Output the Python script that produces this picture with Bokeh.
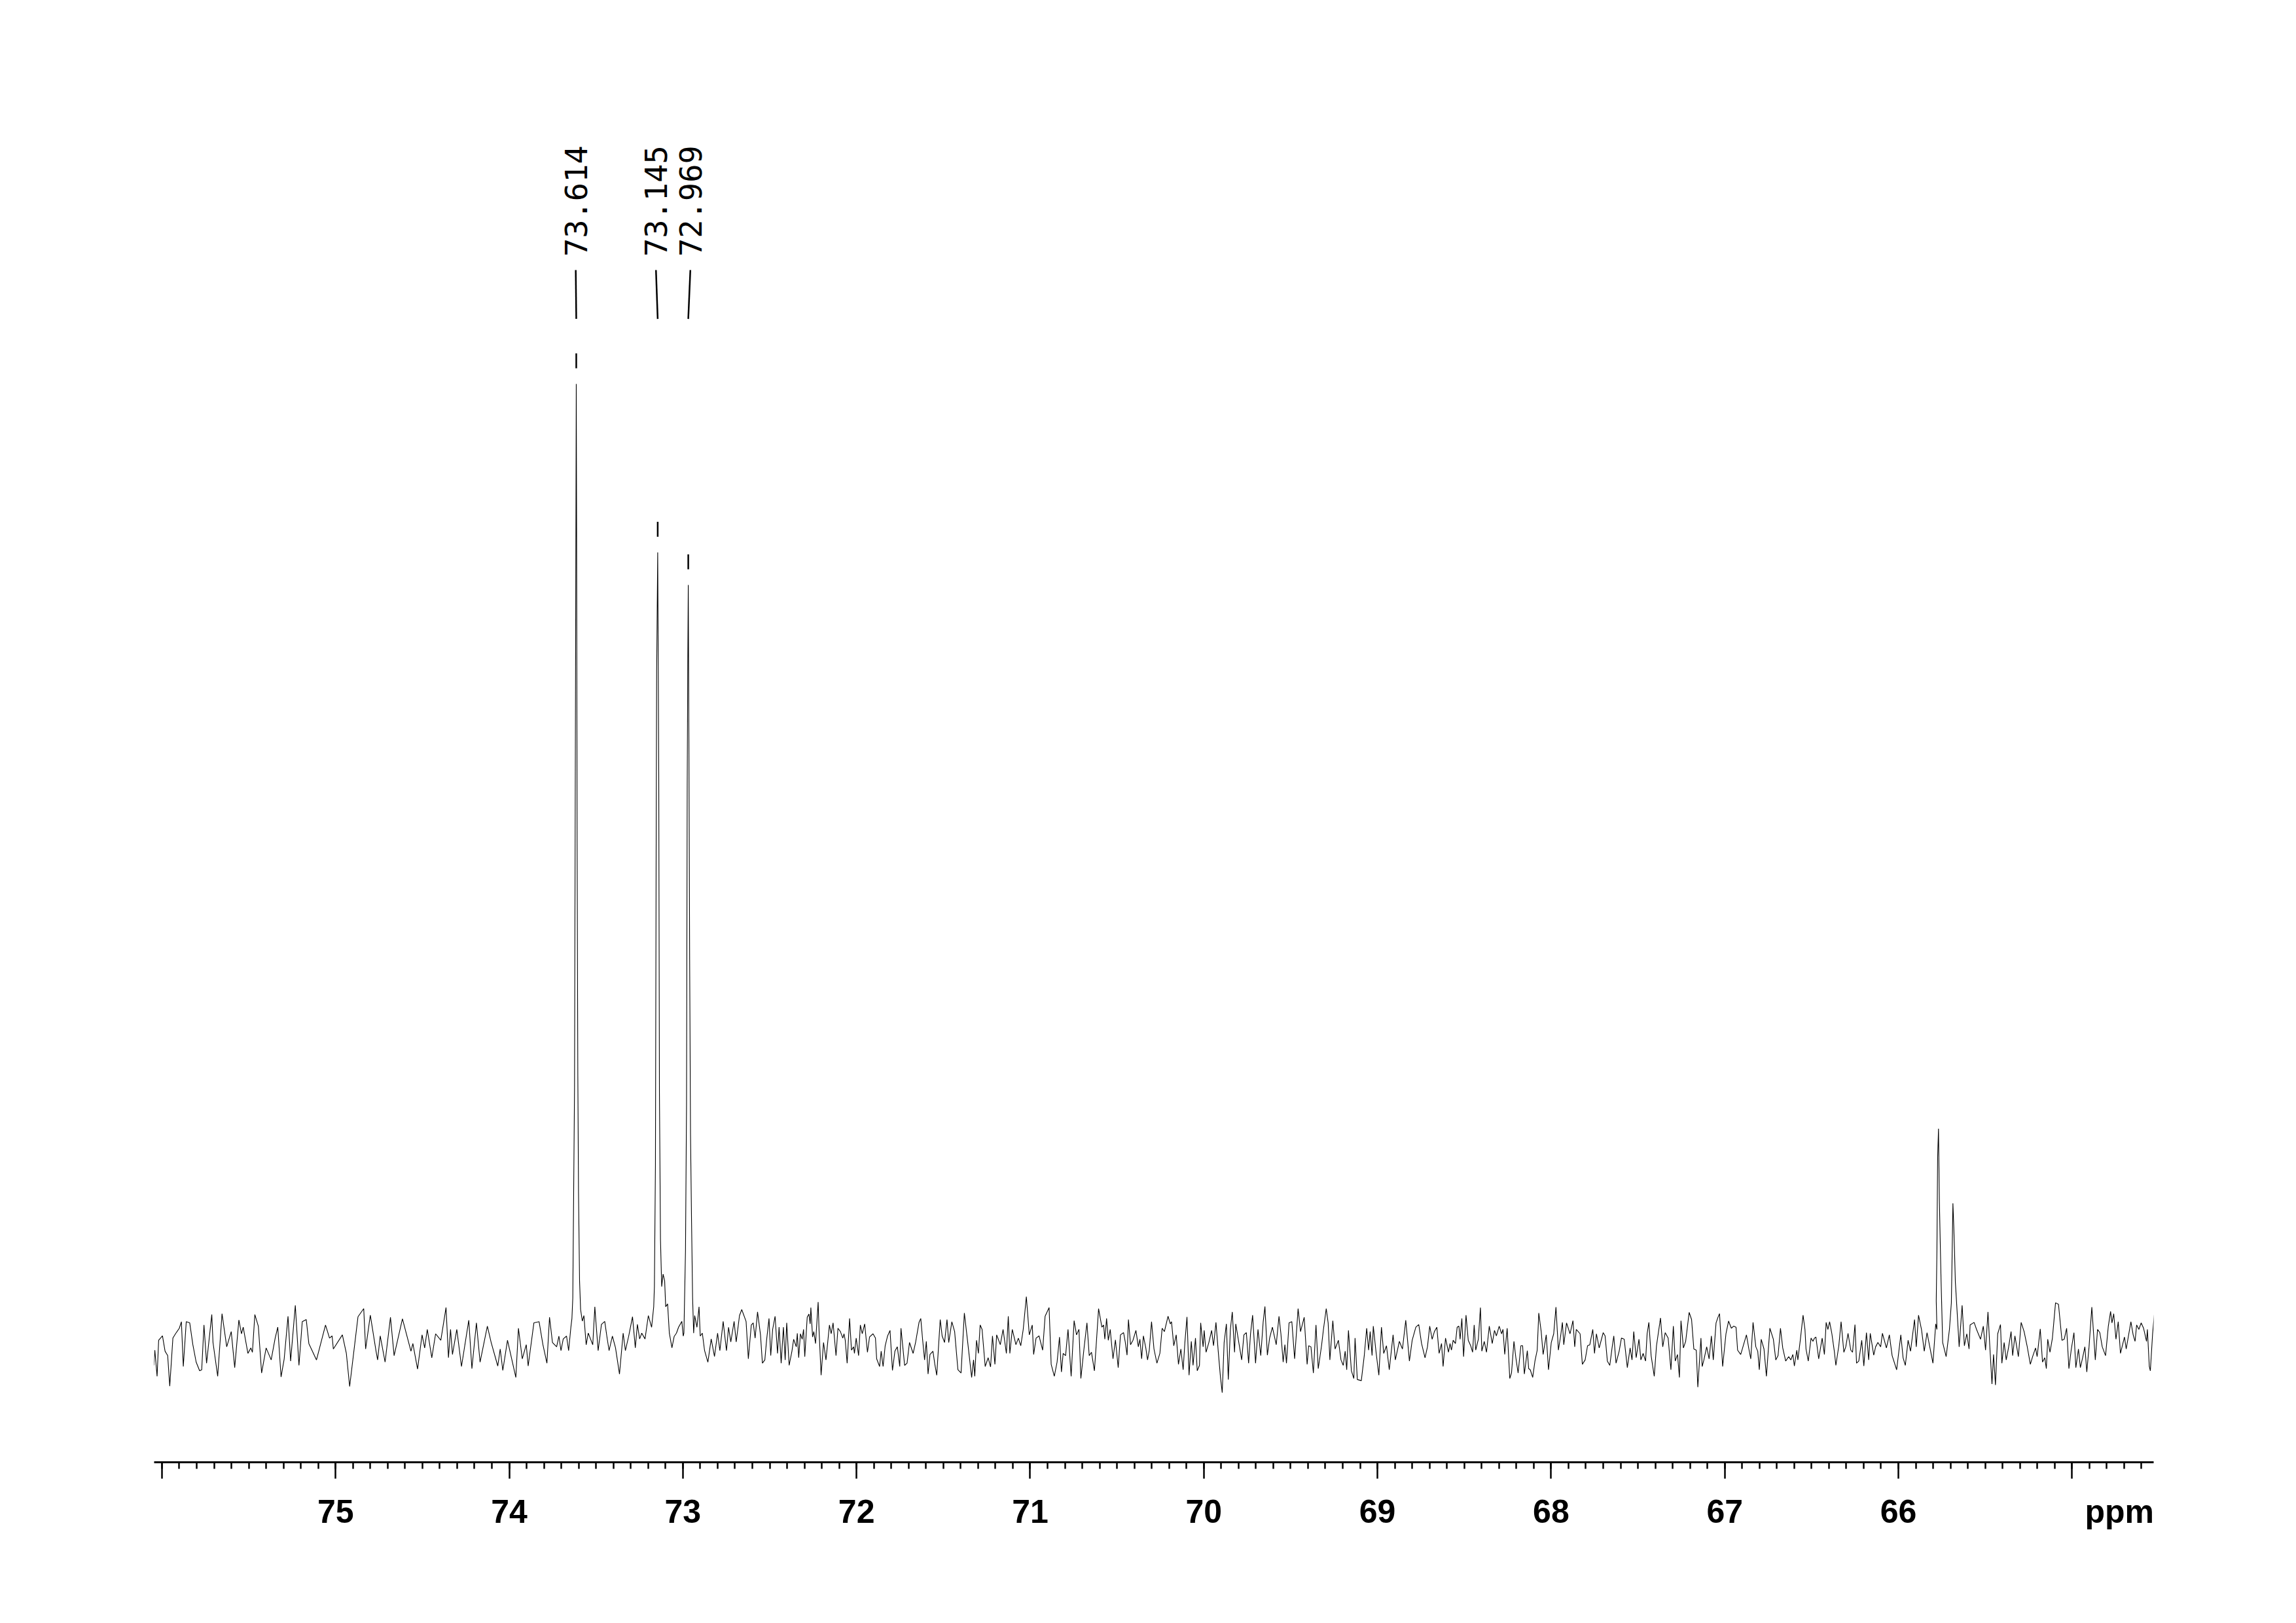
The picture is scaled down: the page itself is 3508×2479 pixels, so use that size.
import numpy as np
from bokeh.plotting import figure
from bokeh.models import Range1d, FixedTicker, LinearAxis
from bokeh.embed import file_html
from bokeh.resources import INLINE
from bokeh.core.properties import value

# ---------------- data ----------------
SPEC_PPM = [
    76.046, 76.041, 76.028, 76.019, 75.997, 75.982, 75.967, 75.955, 75.937, 75.922,
    75.900, 75.888, 75.877, 75.860, 75.840, 75.822, 75.803, 75.783, 75.771, 75.758,
    75.743, 75.713, 75.706, 75.679, 75.654, 75.627, 75.601, 75.581, 75.557, 75.542,
    75.532, 75.505, 75.488, 75.479, 75.465, 75.445, 75.426, 75.400, 75.371, 75.348,
    75.333, 75.314, 75.296, 75.274, 75.259, 75.232, 75.211, 75.192, 75.169, 75.154,
    75.110, 75.058, 75.035, 75.020, 75.013, 74.961, 74.938, 74.919, 74.871, 74.838,
    74.827, 74.800, 74.767, 74.758, 74.743, 74.715, 74.684, 74.663, 74.615, 74.566,
    74.555, 74.528, 74.502, 74.487, 74.472, 74.446, 74.424, 74.394, 74.364, 74.350,
    74.338, 74.327, 74.302, 74.275, 74.233, 74.215, 74.189, 74.168, 74.126, 74.104,
    74.066, 74.052, 74.037, 74.010, 73.962, 73.947, 73.925, 73.902, 73.891, 73.858,
    73.828, 73.806, 73.783, 73.768, 73.751, 73.727,
    73.714, 73.702, 73.689, 73.670, 73.658, 73.645, 73.639, 73.634, 73.629, 73.624,
    73.620, 73.616, 73.614, 73.612, 73.609, 73.605, 73.601, 73.595, 73.589, 73.579,
    73.570, 73.557, 73.545, 73.532, 73.519, 73.507, 73.501, 73.488, 73.469, 73.450,
    73.438, 73.425, 73.406, 73.388, 73.365, 73.344, 73.331, 73.312, 73.290, 73.274,
    73.262, 73.249, 73.237, 73.218, 73.199, 73.180, 73.168, 73.164, 73.158, 73.154,
    73.151, 73.145, 73.139, 73.135, 73.129, 73.122, 73.114, 73.105, 73.099, 73.088,
    73.078, 73.063, 73.050, 73.037, 73.025, 73.006, 72.998, 72.994, 72.985, 72.979,
    72.975, 72.972, 72.969, 72.965, 72.961, 72.956, 72.950, 72.944, 72.938, 72.932,
    72.919, 72.907, 72.900, 72.888, 72.875, 72.856, 72.837, 72.818, 72.800, 72.787,
    72.768, 72.749, 72.737, 72.724, 72.705, 72.693, 72.674, 72.661, 72.636,
    72.623, 72.606, 72.595, 72.584, 72.570, 72.553, 72.542, 72.528, 72.518, 72.504,
    72.494, 72.483, 72.469, 72.455, 72.446, 72.434, 72.421, 72.411, 72.402, 72.388,
    72.372, 72.362, 72.347, 72.341, 72.333, 72.323, 72.313, 72.305, 72.298, 72.284,
    72.274, 72.267, 72.263, 72.253, 72.246, 72.236, 72.221, 72.216, 72.204, 72.190,
    72.176, 72.156, 72.146, 72.135, 72.118, 72.107, 72.093, 72.079, 72.072, 72.065,
    72.054, 72.040, 72.029, 72.017, 72.012, 72.002, 71.988, 71.978, 71.967, 71.953,
    71.937, 71.925, 71.905, 71.891, 71.884, 71.867, 71.858, 71.847, 71.835, 71.821,
    71.807, 71.793, 71.779, 71.765, 71.751, 71.744, 71.723, 71.709, 71.695, 71.674,
    71.660, 71.640, 71.630, 71.619, 71.608, 71.598, 71.588, 71.577, 71.560, 71.549,
    71.538, 71.518, 71.507, 71.493, 71.479, 71.469, 71.451, 71.435, 71.416, 71.398,
    71.379, 71.361, 71.337, 71.326, 71.319, 71.309, 71.298, 71.288, 71.277, 71.259,
    71.242, 71.228, 71.217, 71.203, 71.193, 71.172, 71.156, 71.137, 71.126, 71.117,
    71.103, 71.082, 71.068, 71.054, 71.040, 71.022, 71.005, 70.988, 70.980, 70.966,
    70.949, 70.928, 70.914, 70.891, 70.879, 70.861, 70.845, 70.831, 70.820, 70.810,
    70.796, 70.782, 70.764, 70.747, 70.733, 70.719, 70.708, 70.691, 70.673,
    70.660, 70.647, 70.630, 70.620, 70.606, 70.587, 70.577, 70.570, 70.560, 70.550,
    70.539, 70.523, 70.509, 70.493, 70.480, 70.462, 70.453, 70.442, 70.434, 70.422,
    70.408, 70.391, 70.377, 70.368, 70.358, 70.348, 70.334, 70.324, 70.314, 70.301,
    70.287, 70.270, 70.253, 70.240, 70.227, 70.206, 70.193, 70.186, 70.173, 70.159,
    70.146, 70.132, 70.119, 70.109, 70.097, 70.085, 70.072, 70.062, 70.048, 70.038,
    70.025, 70.018, 70.004, 69.998, 69.987, 69.971, 69.955, 69.944, 69.930, 69.917,
    69.904, 69.894, 69.883, 69.870, 69.859, 69.847, 69.836, 69.823, 69.816, 69.782,
    69.769, 69.755, 69.742, 69.731, 69.719, 69.702, 69.688, 69.672, 69.658, 69.648,
    69.634, 69.621, 69.605, 69.583, 69.567, 69.556, 69.543, 69.533, 69.524, 69.509,
    69.493, 69.477, 69.457, 69.443, 69.422, 69.405, 69.396, 69.383, 69.369, 69.354,
    69.341, 69.322, 69.311, 69.295, 69.284, 69.274, 69.257, 69.244, 69.225, 69.210,
    69.197, 69.186, 69.177, 69.167, 69.150, 69.136, 69.129, 69.116, 69.093, 69.076,
    69.062, 69.051, 69.042, 69.031, 69.024, 69.008, 68.992, 68.977, 68.964, 68.948,
    68.932, 68.910, 68.897, 68.874, 68.856, 68.837, 68.816, 68.800, 68.779, 68.762,
    68.746, 68.726, 68.712, 68.699, 68.685, 68.672, 68.658, 68.645, 68.631, 68.622,
    68.608,
    68.591, 68.582, 68.574, 68.564, 68.551, 68.541, 68.531, 68.524, 68.514, 68.504,
    68.490, 68.477, 68.463, 68.452, 68.443, 68.434, 68.419, 68.407, 68.399, 68.385,
    68.372, 68.356, 68.339, 68.326, 68.315, 68.299, 68.285, 68.277, 68.267, 68.253,
    68.238, 68.228, 68.214, 68.203, 68.190, 68.174, 68.164, 68.154, 68.137, 68.129,
    68.120, 68.106, 68.093, 68.080, 68.071, 68.057, 68.046, 68.028, 68.015, 67.999,
    67.985, 67.972, 67.958, 67.945, 67.935, 67.927, 67.911, 67.891, 67.874, 67.864,
    67.855, 67.833, 67.820, 67.804, 67.790, 67.777, 67.760, 67.750, 67.739, 67.723,
    67.700, 67.689, 67.676, 67.662, 67.649, 67.639, 67.626, 67.608, 67.595, 67.579,
    67.561, 67.545, 67.534, 67.524, 67.510, 67.494, 67.483, 67.470, 67.456, 67.447,
    67.437, 67.424, 67.406, 67.393, 67.370, 67.357, 67.343, 67.326, 67.310, 67.296,
    67.285, 67.272, 67.261, 67.252, 67.238, 67.225, 67.205, 67.191, 67.178, 67.164,
    67.155, 67.137, 67.130, 67.120, 67.104, 67.090, 67.077, 67.066, 67.050, 67.039,
    67.030, 67.012, 66.993, 66.978, 66.962, 66.949, 66.935, 66.926, 66.908, 66.888,
    66.875, 66.861, 66.850, 66.837, 66.821, 66.810, 66.801, 66.790, 66.774, 66.760,
    66.740, 66.720, 66.706, 66.693, 66.679, 66.666, 66.649, 66.632, 66.619, 66.608,
    66.599, 66.585, 66.579, 66.565, 66.549, 66.538, 66.532,
    66.519, 66.503, 66.492, 66.483, 66.475, 66.459, 66.439, 66.426, 66.416, 66.406,
    66.396, 66.383, 66.369, 66.360, 66.343, 66.330, 66.314, 66.303, 66.290, 66.274,
    66.264, 66.250, 66.241, 66.228, 66.211, 66.199, 66.184, 66.171, 66.162, 66.142,
    66.131, 66.118, 66.102, 66.092, 66.069, 66.052, 66.036, 66.010, 65.986, 65.973,
    65.960, 65.944, 65.930, 65.907, 65.897, 65.884, 65.867, 65.851, 65.835, 65.818,
    65.801, 65.785, 65.778, 65.782, 65.778, 65.774, 65.769, 65.764, 65.759, 65.754,
    65.745, 65.725, 65.706, 65.695, 65.691, 65.686, 65.681, 65.677, 65.672, 65.666,
    65.650, 65.633, 65.620, 65.606, 65.593, 65.587, 65.564, 65.550, 65.527, 65.511,
    65.498, 65.484, 65.474, 65.461, 65.452, 65.441, 65.428, 65.412, 65.404, 65.391,
    65.379, 65.366, 65.351, 65.342, 65.329, 65.309, 65.293, 65.276, 65.259, 65.240,
    65.227, 65.210, 65.201, 65.183, 65.170, 65.157, 65.148, 65.140, 65.127, 65.113,
    65.095, 65.078, 65.058, 65.045, 65.031, 65.018, 65.005, 64.989, 64.978, 64.963,
    64.952, 64.939, 64.926, 64.915, 64.902, 64.886, 64.866, 64.853, 64.840, 64.826,
    64.807, 64.791, 64.778, 64.770, 64.760, 64.747, 64.734, 64.721, 64.698, 64.688,
    64.661, 64.648, 64.637, 64.628, 64.615, 64.602, 64.588, 64.571, 64.566, 64.555,
    64.549, 64.536, 64.526,
]

SPEC_INT = [
    -2.53, -0.94, -3.67, 0.09, 0.55, -1.05, -1.51, -4.70, 0.32, 0.77,
    1.35, 2.03, -2.65, 2.03, 1.91, -0.37, -2.19, -3.10, -2.99, 1.69,
    -2.30, 2.78, -0.14, -3.67, 2.87, -0.59, 1.00, -2.76, 2.21, 0.77,
    1.46, -1.28, -0.71, -1.16, 2.78, 1.57, -3.33, -0.71, -1.96, 0.32,
    1.46, -3.74, -1.85, 2.60, -2.08, 3.74, -2.53, 2.03, 2.26, -0.25,
    -1.96, 1.69, 0.32, 0.55, -0.82, 0.66, -1.28, -4.74, 2.55, 3.40,
    -0.82, 2.71, -1.05, -1.96, 0.55, -2.19, 2.49, -1.51, 2.33, -1.05,
    -0.25, -2.92, 0.66, -0.71, 1.23, -1.73, 0.77, 0.09, 3.51, -1.73,
    1.23, -1.39, 1.23, -2.65, 2.19, -2.87, 1.91, -2.19, 1.57, -0.14,
    -2.60, -0.82, -3.06, 0.09, -3.79, 1.35, -1.85, -0.37, -2.60, 1.91,
    2.03, -0.37, -2.30, 2.49, -0.14, -0.59,
    0.53, -0.99, 0.23, 0.53, -0.99, 1.45, 2.37, 4.5, 15.5, 26.5,
    55.8, 85.0, 100.0, 85.0, 52.0, 27.7, 15.5, 6.3, 3.3, 2.1,
    2.67, -0.38, 0.84, 0.23, -0.38, 3.59, 2.06, -0.99, 1.75, 2.06,
    0.53, -0.99, 0.53, -0.69, -3.44, 0.84, -0.99, 0.53, 2.55, -0.69,
    1.75, 0.23, 0.84, 0.23, 2.67, 1.45, 3.59, 5.7, 18.5, 50.9,
    70.0, 82.4, 59.5, 25.9, 10.6, 5.7, 7.0, 6.3, 3.6, 3.9,
    0.84, -0.69, 0.5, 0.84, 1.45, 2.06, 0.53, 0.84, 9.4, 24.6,
    58.2, 70.0, 79.0, 61.3, 39.9, 21.6, 12.4, 4.5, 0.84, 2.67,
    1.45, 3.59, 0.53, 0.84, -0.99, -2.2, 0.23, -1.6, 0.84, -0.99,
    2.06, -0.99, 1.45, -0.08, 2.06, -0.08, 2.67, 3.3, 2.06,
    -1.85, 1.69, 1.91, 0.32, 3.05, 0.66, -2.30, -1.96, 0.09, 2.37,
    -1.51, 1.23, 2.60, -1.28, 1.46, -2.30, 1.46, -1.96, 1.91, -2.53,
    -1.05, 0.20, -0.59, 0.82, -1.73, 0.77, 0.20, 1.23, -1.62, 2.49,
    2.83, 1.80, 3.51, 0.43, 1.00, -0.25, 4.08, 1.23, -3.56, -0.14,
    -1.96, 1.69, 0.77, 1.91, -1.51, 1.35, 1.00, 0.32, 0.77, 0.09,
    -2.30, 2.37, -0.94, -0.59, -1.28, 0.32, -1.51, 1.69, 0.77, 1.80,
    -1.16, 0.43, 0.77, 0.32, -1.85, -2.65, -1.05, -2.65, -0.48, 0.55,
    1.12, -3.06, -1.05, -0.59, -2.65, 1.35, -2.53, -2.30, -0.14, -1.28,
    -0.14, 1.96, 2.37, 0.09, -1.96, -0.02, -3.44, -1.39, -1.05, -2.42,
    -3.56, 2.26, 0.55, -0.14, 2.26, -0.14, 2.03, 1.00, -2.99, -3.33,
    2.94, 0.09, -3.79, -1.96, -3.67, 0.09, -1.28, 1.69, 1.23, -2.65,
    -1.73, -2.69, 0.55, -2.42, 0.66, -0.37, 1.23, -1.28, 2.60, -1.28,
    1.23, -0.37, 0.32, -0.48, 1.23, 4.65, 0.66, 1.69, -1.39, 0.32,
    0.55, -0.94, 2.60, 3.51, -2.42, -3.67, -2.19, 0.43, -3.22, -1.28,
    -1.51, 1.23, -3.67, 2.14, 0.66, 1.23, -3.90, -0.94, 1.91,
    -1.51, -1.16, -3.10, -0.48, 3.40, 1.46, 1.69, 0.20, 2.37, 0.09,
    1.23, -1.85, 0.14, -2.76, 0.66, 0.89, -0.02, -1.46, 2.26, -0.37,
    0.09, 1.12, -0.59, 0.20, -1.85, 0.55, -0.71, -1.96, -0.94, 2.03,
    -0.82, -2.30, -1.28, 1.35, 1.00, 2.60, 1.80, 2.03, -0.48, 0.66,
    -2.42, -0.82, -2.99, -0.14, 2.53, -3.56, -0.02, -2.53, 0.32, -3.10,
    -2.53, 1.91, -0.59, 1.12, -1.16, -0.14, 1.12, -0.48, 1.96, -1.05,
    -3.79, -5.38, -0.14, 1.80, -4.01, 1.23, 3.05, -1.16, 1.80, -1.96,
    0.66, 0.89, -2.30, 0.77, 2.71, -2.30, 1.23, -1.51, 2.03, 3.62,
    -1.46, 0.32, 1.46, -0.37, 2.60, 0.77, -2.19, -0.37, -2.30, 1.91,
    2.03, -1.85, 3.40, 1.00, 2.49, -2.42, -0.48, -0.59, -3.33, 1.69,
    -2.87, -0.48, 1.23, 3.40, 1.91, -1.96, 2.14, -0.82, 0.09, -1.96,
    -2.53, -1.05, -2.99, 1.12, -3.10, -3.90, 0.32, -4.01, -4.13, -1.51,
    1.35, -0.94, 1.00, -1.51, 1.57, -1.16, -3.56, 1.46, -1.28, -0.48,
    -2.99, 0.66, -1.96, -0.02, -0.82, 2.19, -2.08, 0.09, 1.46, 1.73,
    -0.25, -1.73, -0.59, 1.57, 0.20, 1.00, 1.46, -1.28, -0.25, -2.65,
    0.32,
    -1.16, -0.25, -0.94, 0.09, -0.25, 1.46, 1.57, 0.20, 2.37, -1.62,
    2.71, 0.09, -0.48, -1.16, 1.69, -0.94, 0.20, 3.51, -1.05, -0.02,
    -1.16, 1.57, -0.25, 1.12, 0.55, 1.57, 0.77, 1.23, -1.39, 1.35,
    -3.90, -3.33, -0.02, -1.73, -3.33, -0.48, -0.48, -3.44, -1.00, -2.87,
    -2.99, -3.79, -2.08, -0.94, 2.94, 1.00, -1.39, 0.66, -2.99, -0.14,
    0.77, 3.56, -0.94, 0.55, 1.96, -0.37, 1.91, 0.77, 2.14, -0.59,
    1.23, 0.77, -2.42, -1.96, -0.48, -0.37, 1.23, -1.28, 0.77, -0.71,
    0.89, 0.55, -2.08, -2.53, -0.71, 0.55, -2.30, -1.05, 0.32, 0.20,
    -2.76, -0.71, -1.96, 1.00, -1.73, 0.20, -1.96, -1.28, -2.08, 0.77,
    1.96, -1.51, -3.67, -0.48, 2.42, -0.59, 0.89, 0.32, -2.99, 1.57,
    -2.08, -1.39, -3.79, 2.14, -0.71, -0.02, 3.01, 2.26, -0.82, -0.94,
    -4.81, 0.32, -2.65, -1.96, -0.59, -1.85, 0.55, -1.96, 1.91, 2.49,
    2.87, -2.65, 0.77, 2.10, 1.35, 1.57, 1.46, -0.94, -1.39, -0.14,
    0.66, -0.82, -1.85, 1.96, -0.59, -1.05, -2.99, 0.20, -0.82, -3.67,
    1.35, 0.20, -1.96, -1.51, 1.35, -0.71, -2.08, -1.62, -1.96, -1.39,
    -2.60, -0.94, -1.96, 0.09, 2.71, 1.23, -0.82,
    -2.08, 0.32, -0.02, 0.32, 0.43, -1.85, 0.32, -1.39, 1.96, 1.23,
    2.03, 0.77, -1.05, -2.53, -0.48, 2.03, -1.16, -0.59, 0.82, -0.94,
    -1.16, 1.73, -2.30, -2.08, 0.09, -2.60, 0.89, -1.96, 0.82, -1.46,
    -0.59, -0.14, -0.59, 0.82, -0.71, 0.66, -1.51, -2.99, 0.66, -1.73,
    -2.53, 0.09, -1.05, 2.26, -0.59, 2.71, 1.23, -1.05, 0.89, -0.71,
    -2.30, 1.80, 1.23, 4.2, 9.6, 19.2, 22.2, 14.7, 10.3, 6.2,
    -0.14, -1.62, 1.23, 4.0, 8.5, 14.4, 12.0, 9.6, 6.2, 4.4,
    -0.59, 3.74, -0.48, 0.77, -0.82, 1.69, 1.96, 1.23, 0.20, 1.57,
    -0.94, 3.05, -0.37, -4.47, -1.39, -4.58, 0.77, 1.73, -2.30, -0.14,
    -1.96, -0.71, 1.00, -1.51, 0.55, -1.62, 1.96, 1.00, -0.48, -2.42,
    -1.62, -0.71, -1.62, 1.28, -2.19, -1.73, -2.87, 0.20, -1.16, 0.32,
    4.01, 3.85, 0.09, 0.20, 1.35, -2.87, -0.94, 0.89, -2.76, -0.82,
    -2.76, -1.73, -0.59, -3.22, -0.59, 3.56, -1.96, 1.23, 0.89, -0.59,
    -1.51, 1.57, 3.10, 1.91, 2.87, 0.20, 2.03, -1.28, 0.43, -0.82,
    2.03, 0.66, -0.02, 1.69, 1.23, 1.91, 1.35, -0.02, 1.23, -2.65,
    -3.10, 0.77, 2.83,
]

PEAK_LABELS = ["73.614", "73.145", "72.969"]
PEAK_PPM = [73.614, 73.145, 72.969]

MAJOR_TICKS = [76, 75, 74, 73, 72, 71, 70, 69, 68, 67, 66, 65]
LABELED_TICKS = [75, 74, 73, 72, 71, 70, 69, 68, 67, 66]
TICK_LABELS = ["75", "74", "73", "72", "71", "70", "69", "68", "67", "66"]
AXIS_UNIT = "ppm"
UNIT_POS = 64.727          # where the unit text sits on the scale

# ---------------- layout / style ----------------
X_START, X_END = 76.045, 64.53
W, H = 3480, 2440
FRAME_L, FRAME_W = 235, 3055
FRAME_B = 2233             # canvas y of the frame bottom (axis line)
PX_PER_UNIT = 14.62
BASE_Y = 2048              # canvas y of zero intensity
LABEL_SHIFT = [0.003, 0.010, -0.012]   # ppm offset of each label column from its peak

y_top = BASE_Y / PX_PER_UNIT
y_bot = -(FRAME_B - BASE_Y) / PX_PER_UNIT

p = figure(width=W, height=H,
           x_range=Range1d(X_START, X_END), y_range=Range1d(y_bot, y_top),
           output_backend="svg", toolbar_location=None, y_axis_location=None,
           min_border_left=FRAME_L, min_border_right=W - FRAME_L - FRAME_W,
           min_border_top=0, min_border_bottom=H - FRAME_B)
p.grid.visible = False
p.outline_line_color = None
p.background_fill_color = "white"
p.border_fill_color = "white"

# axis line + ticks (its own labels left empty)
ax = p.xaxis[0]
minor = [round(64.6 + 0.1 * i, 1) for i in range(115)]
ax.ticker = FixedTicker(ticks=MAJOR_TICKS, minor_ticks=minor)
ax.major_label_overrides = {t: "" for t in MAJOR_TICKS}
ax.axis_line_width = 3
ax.axis_line_color = "black"
ax.major_tick_out = 25
ax.major_tick_in = 0
ax.minor_tick_out = 10
ax.minor_tick_in = 0
ax.major_tick_line_width = 2.5
ax.minor_tick_line_width = 2.5
ax.major_tick_line_color = "black"
ax.minor_tick_line_color = "black"
ax.major_label_text_font_size = "1px"
ax.major_label_standoff = 0

# label row (numbers + unit), no line / ticks of its own
lab_axis = LinearAxis(ticker=FixedTicker(ticks=LABELED_TICKS + [UNIT_POS], minor_ticks=[]))
overrides = {t: s for t, s in zip(LABELED_TICKS, TICK_LABELS)}
overrides[UNIT_POS] = AXIS_UNIT
lab_axis.major_label_overrides = overrides
lab_axis.axis_line_color = None
lab_axis.major_tick_line_color = None
lab_axis.minor_tick_line_color = None
lab_axis.major_tick_out = 0
lab_axis.major_tick_in = 0
lab_axis.minor_tick_out = 0
lab_axis.minor_tick_in = 0
lab_axis.major_label_text_font = "Liberation Sans"
lab_axis.major_label_text_font_style = "bold"
lab_axis.major_label_text_font_size = "50px"
lab_axis.major_label_text_color = "black"
lab_axis.major_label_standoff = 22
p.add_layout(lab_axis, "below")

# spectrum
p.line(SPEC_PPM, SPEC_INT, line_color="black", line_width=1.1)

# peak picking labels
spec_ppm = np.array(SPEC_PPM)
spec_int = np.array(SPEC_INT)
heights = [float(spec_int[np.argmin(np.abs(spec_ppm - pk))]) for pk in PEAK_PPM]
lab_x = [pk + s for pk, s in zip(PEAK_PPM, LABEL_SHIFT)]

p.segment(x0=PEAK_PPM, y0=[h + 1.64 for h in heights],
          x1=PEAK_PPM, y1=[h + 3.2 for h in heights],
          line_color="black", line_width=2.5)
p.segment(x0=PEAK_PPM, y0=[106.8] * 3, x1=lab_x, y1=[111.9] * 3,
          line_color="black", line_width=2.5)
p.text(x=lab_x, y=[113.3] * 3, text=PEAK_LABELS, angle=np.pi / 2,
       text_align="left", text_baseline="middle",
       text_font=value("DejaVu Sans Mono"), text_font_size="47px",
       text_color="black")

open("out.html", "w").write(file_html(p, INLINE))
